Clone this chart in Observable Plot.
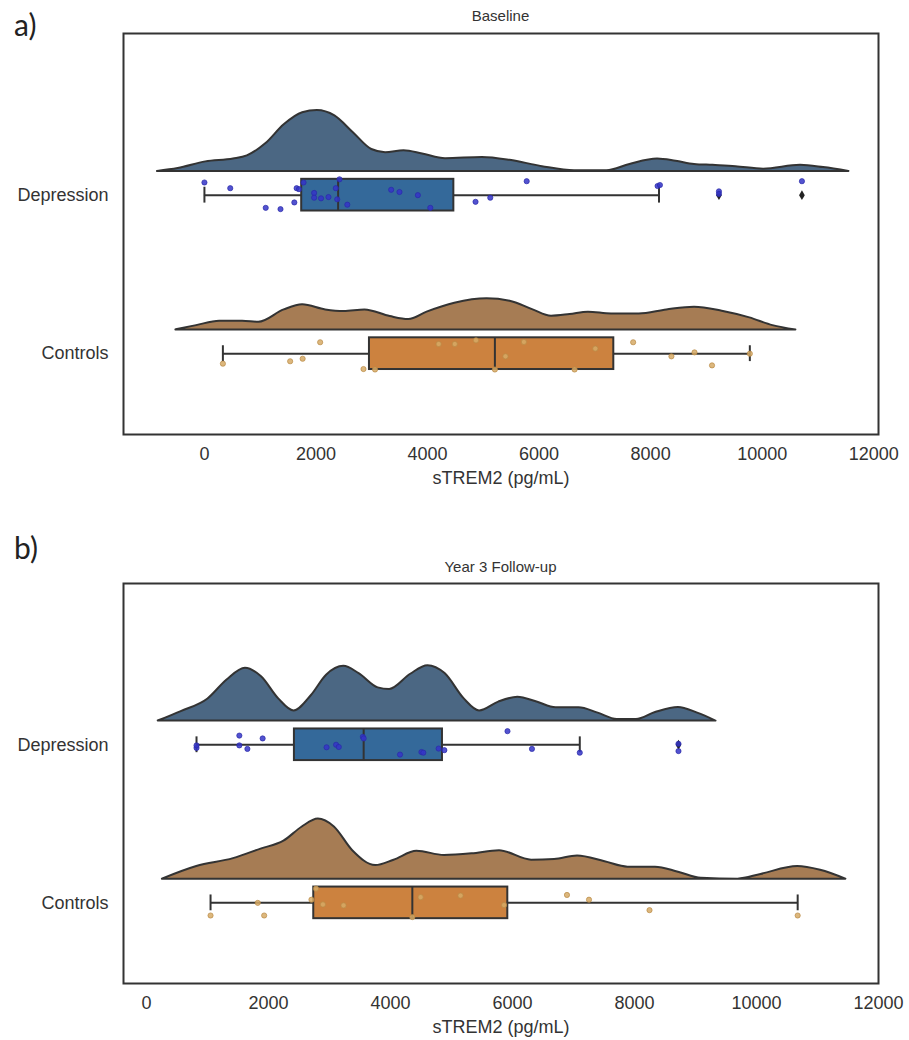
<!DOCTYPE html>
<html>
<head>
<meta charset="utf-8">
<script src="https://cdn.jsdelivr.net/npm/d3@7"></script>
<script src="https://cdn.jsdelivr.net/npm/@observablehq/plot@0.6"></script>
<style>
  html, body { margin: 0; padding: 0; background: #fff; }
  #page { position: relative; width: 909px; height: 1040px; overflow: hidden; background: #fff; font-family: "Liberation Sans", Arial, sans-serif; color: #333; }
  .plab { position: absolute; z-index: 3; left: 14px; font-family: Lato, "Liberation Sans", sans-serif; font-size: 30px; color: #222; line-height: 34px; }
  .ttl { position: absolute; z-index: 3; left: 123px; width: 755px; text-align: center; font-size: 15px; line-height: 18px; color: #333; }
  .chart { position: absolute; z-index: 1; left: 0; }
</style>
</head>
<body>
<div id="page">
  <div class="chart" id="pa" style="top:25px"></div>
  <div class="chart" id="pb" style="top:575px"></div>
  <div class="plab" style="top:7px">a)</div>
  <div class="ttl" style="top:7px">Baseline</div>
  <div class="plab" style="top:530px">b)</div>
  <div class="ttl" style="top:558px">Year 3 Follow-up</div>
</div>
<script>
// ---------- shared ----------
const groups = ["Depression", "Controls"];
const xTicks = [0, 2000, 4000, 6000, 8000, 10000, 12000];
const xLabel = "sTREM2 (pg/mL)";

// ---------- a) Baseline ----------
// density curves (value, height in category units)
const baseDepDensX = [-843,-471,25,521,769,1099,1430,1761,2025,2339,2670,3001,3249,3579,3910,4323,4984,5480,6059,6637,7216,7629,8125,8456,8787,9118,9531,10027,10688,11101,11556];
const baseDepDensH = [0,0.018,0.06,0.078,0.098,0.174,0.294,0.37,0.384,0.35,0.244,0.138,0.118,0.13,0.11,0.08,0.088,0.07,0.03,0.004,0.004,0.044,0.078,0.064,0.044,0.038,0.03,0.014,0.038,0.024,0];
const baseCtlDensX = [-512,-140,273,686,975,1430,1761,2174,2505,2877,3331,3662,3992,4489,5067,5480,5893,6224,6555,6885,7299,7795,8291,8787,9283,9779,10192,10605];
const baseCtlDensH = [0,0.027,0.055,0.055,0.048,0.126,0.158,0.126,0.116,0.126,0.084,0.065,0.112,0.168,0.196,0.181,0.126,0.086,0.097,0.112,0.101,0.101,0.126,0.143,0.118,0.076,0.027,0];
// raw points (value, vertical jitter)
const baseDepVal = [0,463,1099,1364,1612,1653,1695,1777,1967,1967,2091,2224,2356,2381,2422,2562,3348,3497,3827,4050,4861,5125,5778,8125,8167,9225,9225,10713];
const baseDepJit = [-0.08,-0.044,0.08,0.088,0.046,-0.044,-0.038,-0.08,-0.014,0.016,0.02,0.012,-0.044,0.026,-0.1,0.06,-0.034,-0.02,0,0.08,0.042,0.016,-0.088,-0.058,-0.064,-0.024,-0.008,-0.088];
const baseCtlVal = [331,1537,1761,2075,2852,3059,4200,4489,4869,5208,5398,5728,6637,7009,7687,8373,8787,9101,9779];
const baseCtlJit = [0.063,0.048,0.032,-0.072,0.097,0.1,-0.061,-0.061,-0.084,0.1,0.017,-0.074,0.1,-0.032,-0.072,0.017,-0.008,0.074,0];
// box stats: [whiskerLow, Q1, median, Q3, whiskerHigh]
const baseDepBox = [0, 1744, 2397, 4472, 8150];
const baseCtlBox = [331, 2959, 5208, 7340, 9779];
const baseDepOut = [9225, 10713];
const baseCtlOut = [];

// ---------- b) Year 3 Follow-up ----------
const y3DepDensX = [192,569,1008,1321,1622,1886,2168,2419,2701,2952,3234,3485,3798,3986,4331,4613,4895,5209,5460,5774,6087,6401,6714,7090,7404,7717,8031,8345,8721,9035,9336];
const y3DepDensH = [0,0.06,0.14,0.26,0.334,0.28,0.14,0.064,0.16,0.29,0.346,0.3,0.21,0.2,0.296,0.35,0.3,0.14,0.064,0.12,0.15,0.12,0.084,0.084,0.05,0.01,0.01,0.054,0.086,0.05,0];
const y3CtlDensX = [260,824,1426,1877,2253,2554,2817,3080,3381,3757,4058,4434,4885,5336,5787,6314,6690,7066,7517,7893,8344,8720,9096,9698,10074,10675,11051,11465];
const y3CtlDensH = [0,0.08,0.13,0.19,0.24,0.33,0.38,0.33,0.18,0.086,0.12,0.176,0.15,0.16,0.18,0.12,0.124,0.146,0.11,0.076,0.076,0.044,0.006,0,0.03,0.08,0.056,0];
const y3DepVal = [820,820,1522,1522,1654,1904,2952,3108,3152,3547,3560,4156,4507,4538,4789,4883,5918,6319,7103,8721,8721];
const y3DepJit = [0.02,0.004,-0.058,0.004,0.026,-0.04,0.016,0,0.014,-0.05,-0.04,0.062,0.046,0.05,0.024,0.034,-0.086,0.026,0.05,-0.006,0.04];
const y3CtlVal = [1050,1824,1929,2704,2779,2892,3230,4358,4494,5148,5862,6893,7254,8246,10675];
const y3CtlJit = [0.08,0,0.08,-0.02,-0.09,0.01,0.016,0.09,-0.036,-0.046,0.014,-0.05,-0.02,0.046,0.08];
const y3DepBox = [820, 2425, 3560, 4852, 7103];
const y3CtlBox = [1050, 2742, 4358, 5923, 10675];
const y3DepOut = [8721];
const y3CtlOut = [];

// ---------- styling ----------
const densFill = ["#4b6783", "#a67c54"];
const boxFill = ["#34699a", "#cc823f"];
const ptFill = ["#3535c8", "#d6aa66"];
const ptStroke = ["#2a2aa8", "#b98a45"];
const ink = "#333";
const densOffset = 0.15;  // gap between category centre and cloud baseline
const boxHalf = 0.1;
const capHalf = 0.05;

function groupMarks(gi, densX, densH, vals, jit, box, outs) {
  const dens = densX.map((v, i) => ({v, base: gi - densOffset, top: gi - densOffset - densH[i]}));
  const pts = vals.map((v, i) => ({v, y: gi + jit[i]}));
  const [wl, q1, med, q3, wh] = box;
  const bx = [{q1, q3, med, wl, wh, y: gi}];
  return [
    Plot.areaY(dens, {x: "v", y1: "base", y2: "top", curve: "monotone-x", fill: densFill[gi], stroke: ink, strokeWidth: 2}),
    Plot.ruleY(bx, {x1: "wl", x2: "q1", y: "y", stroke: ink, strokeWidth: 2}),
    Plot.ruleY(bx, {x1: "q3", x2: "wh", y: "y", stroke: ink, strokeWidth: 2}),
    Plot.ruleX(bx, {x: "wl", y1: d => d.y - capHalf, y2: d => d.y + capHalf, stroke: ink, strokeWidth: 2}),
    Plot.ruleX(bx, {x: "wh", y1: d => d.y - capHalf, y2: d => d.y + capHalf, stroke: ink, strokeWidth: 2}),
    Plot.rect(bx, {x1: "q1", x2: "q3", y1: d => d.y - boxHalf, y2: d => d.y + boxHalf, fill: boxFill[gi], stroke: ink, strokeWidth: 2}),
    Plot.ruleX(bx, {x: "med", y1: d => d.y - boxHalf, y2: d => d.y + boxHalf, stroke: ink, strokeWidth: 2}),
    Plot.dot(outs.map(v => ({v, y: gi})), {x: "v", y: "y", symbol: "diamond", r: 3, fill: "#222", stroke: "none"}),
    Plot.dot(pts, {x: "v", y: "y", r: 2.6, fill: ptFill[gi], stroke: ptStroke[gi], strokeWidth: 0.7, fillOpacity: 0.85})
  ];
}

function panel(xDomain, innerH, marginBottom, dep, ctl) {
  return Plot.plot({
    width: 909,
    height: 8 + innerH + marginBottom,
    marginLeft: 123, marginRight: 31, marginTop: 8, marginBottom,
    style: {fontFamily: '"Liberation Sans", Arial, sans-serif', fontSize: "18px", color: "#333", background: "transparent", overflow: "visible"},
    x: {domain: xDomain},
    y: {domain: [1.51, -1.02]},
    marks: [
      Plot.axisX({ticks: xTicks, tickSize: 0, tickPadding: 13, tickFormat: d => String(d), label: xLabel, labelAnchor: "center", labelArrow: "none", labelOffset: 49, fontSize: 18}),
      Plot.axisY({ticks: [0, 1], tickSize: 0, tickPadding: 15, tickFormat: i => groups[i], label: null, fontSize: 18}),
      ...groupMarks(0, ...dep),
      ...groupMarks(1, ...ctl),
      Plot.frame({stroke: ink, strokeWidth: 2})
    ]
  });
}

document.getElementById("pa").append(panel([-1451, 12086], 401, 66,
  [baseDepDensX, baseDepDensH, baseDepVal, baseDepJit, baseDepBox, baseDepOut],
  [baseCtlDensX, baseCtlDensH, baseCtlVal, baseCtlJit, baseCtlBox, baseCtlOut]));
document.getElementById("pb").append(panel([-377, 12000], 400, 57,
  [y3DepDensX, y3DepDensH, y3DepVal, y3DepJit, y3DepBox, y3DepOut],
  [y3CtlDensX, y3CtlDensH, y3CtlVal, y3CtlJit, y3CtlBox, y3CtlOut]));
</script>
</body>
</html>
